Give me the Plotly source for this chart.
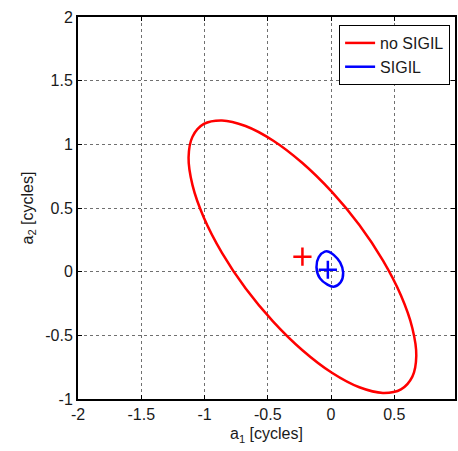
import plotly.graph_objects as go

# Red ellipse ("no SIGIL") (closed loop)
red_x = [0.674, 0.643, 0.553, 0.410, 0.224, 0.007, -0.226, -0.459, -0.676, -0.862,
         -1.005, -1.095, -1.126, -1.095, -1.005, -0.862, -0.676, -0.459, -0.226, 0.007,
         0.224, 0.410, 0.553, 0.643, 0.674]
red_y = [-0.660, -0.444, -0.188, 0.088, 0.366, 0.626, 0.853, 1.030, 1.144, 1.188,
         1.160, 1.060, 0.896, 0.680, 0.424, 0.148, -0.130, -0.390, -0.617, -0.794,
         -0.908, -0.952, -0.924, -0.824, -0.660]

# Blue ellipse ("SIGIL")
blue_x = [-0.050, -0.097, -0.115, -0.087, -0.031, 0.021, 0.076, 0.096, 0.072, 0.021, -0.018, -0.050]
blue_y = [0.157, 0.115, 0.036, -0.053, -0.100, -0.119, -0.084, -0.009, 0.073, 0.132, 0.157, 0.157]

# centre markers
red_center = [-0.226, 0.118]
blue_center = [-0.025, 0.015]

x_ticks = [-2, -1.5, -1, -0.5, 0, 0.5]
x_labels = ["-2", "-1.5", "-1", "-0.5", "0", "0.5"]
y_ticks = [-1, -0.5, 0, 0.5, 1, 1.5, 2]
y_labels = ["-1", "-0.5", "0", "0.5", "1", "1.5", "2"]

FONT = "Liberation Sans, Arial"
TXT = "#1a1a1a"

fig = go.Figure()
fig.add_trace(go.Scatter(x=red_x, y=red_y, mode="lines", name="no SIGIL",
                         line=dict(color="#ff0000", width=2.5, shape="spline", smoothing=1)))
fig.add_trace(go.Scatter(x=blue_x, y=blue_y, mode="lines", name="SIGIL",
                         line=dict(color="#0000ff", width=2.5, shape="spline")))
fig.add_trace(go.Scatter(x=[red_center[0]], y=[red_center[1]], mode="markers", showlegend=False,
                         marker=dict(symbol="cross-thin", size=13, line=dict(color="#ff0000", width=2.5))))
fig.add_trace(go.Scatter(x=[blue_center[0]], y=[blue_center[1]], mode="markers", showlegend=False,
                         marker=dict(symbol="cross-thin", size=13, line=dict(color="#0000ff", width=2.5))))

axis_common = dict(showline=True, linecolor="black", linewidth=2, mirror="allticks",
                   ticks="inside", ticklen=4, tickcolor="black", tickwidth=1,
                   showgrid=True, gridcolor="#707070", griddash="dot", gridwidth=1,
                   zeroline=False, tickfont=dict(family=FONT, size=16, color=TXT))

fig.update_xaxes(range=[-2, 0.98], tickvals=x_ticks, ticktext=x_labels,
                 title=dict(text="a<sub>1</sub> [cycles]", standoff=6,
                            font=dict(family=FONT, size=16, color=TXT)),
                 **axis_common)
fig.update_yaxes(range=[-1, 2], tickvals=y_ticks, ticktext=y_labels,
                 title=dict(text="a<sub>2</sub> [cycles]", standoff=8,
                            font=dict(family=FONT, size=16, color=TXT)),
                 **axis_common)

fig.update_layout(
    width=458, height=451,
    margin=dict(l=78, r=1, t=17, b=52),
    plot_bgcolor="white", paper_bgcolor="white",
    legend=dict(x=0.987, y=0.979, xanchor="right", yanchor="top",
                bgcolor="white", bordercolor="black", borderwidth=1,
                font=dict(family=FONT, size=16, color=TXT),
                tracegroupgap=0),
)

fig.write_html("out.html", config={"displayModeBar": False},
               post_script="document.body.style.margin='0';document.body.style.overflow='hidden';")
